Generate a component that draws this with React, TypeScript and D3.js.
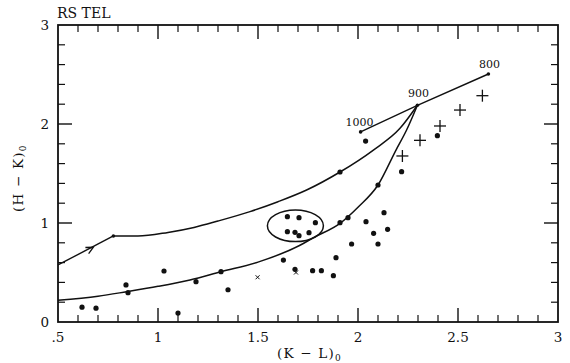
import React from "react";
import * as d3 from "d3";

// values
const dotsX = [0.62, 0.69, 0.84, 0.85, 1.03, 1.1, 1.19, 1.315, 1.35, 1.627, 1.685, 1.773, 1.817, 1.877, 1.89,
  1.968, 2.1, 2.078, 2.148, 2.13, 2.04, 1.95, 1.91, 1.647, 1.705, 1.787, 1.647, 1.685, 1.705, 1.755,
  1.91, 2.038, 2.1, 2.218, 2.397];
const dotsY = [0.15, 0.14, 0.374, 0.296, 0.515, 0.09, 0.407, 0.508, 0.326, 0.626, 0.532, 0.518, 0.518, 0.468, 0.65,
  0.788, 0.788, 0.896, 0.936, 1.104, 1.013, 1.054, 1.003, 1.064, 1.054, 1.003, 0.912, 0.906, 0.872, 0.902,
  1.515, 1.828, 1.384, 1.518, 1.882];

const plusX = [2.222, 2.31, 2.41, 2.51, 2.622];
const plusY = [1.677, 1.835, 1.98, 2.141, 2.286];

const crossX = [1.498, 1.69];
const crossY = [0.452, 0.5];

const trackX = [0.5, 0.777];
const trackY = [0.576, 0.869];

const upperX = [0.777, 0.9, 1.05, 1.18, 1.3, 1.46, 1.6, 1.743, 1.91, 2.077, 2.21, 2.297];
const upperY = [0.869, 0.868, 0.905, 0.955, 1.02, 1.115, 1.215, 1.333, 1.515, 1.737, 1.956, 2.189];

const lowerX = [0.5, 0.7, 0.843, 1.0, 1.16, 1.315, 1.5, 1.71, 1.78, 1.91, 2.0, 2.1, 2.19, 2.243, 2.297];
const lowerY = [0.22, 0.26, 0.306, 0.36, 0.425, 0.508, 0.605, 0.775, 0.855, 0.997, 1.16, 1.384, 1.737, 1.939, 2.189];

const tempLabels = ["1000", "900", "800"];
const tempX = [2.013, 2.297, 2.652];
const tempY = [1.92, 2.189, 2.505];

const ellipseCenter = [1.687, 0.972];
const ellipseRadii = [0.14, 0.16];

const xTickLabels = [".5", "1", "1.5", "2", "2.5", "3"];
const xTickValues = [0.5, 1, 1.5, 2, 2.5, 3];
const yTickLabels = ["0", "1", "2", "3"];
const yTickValues = [0, 1, 2, 3];

const W = 570;
const H = 363;
const L = 58, R = 558, T = 25, B = 322;
const FONT = "'DejaVu Serif', 'Liberation Serif', serif";

export default function App() {
  const x = d3.scaleLinear().domain([0.5, 3]).range([L, R]);
  const y = d3.scaleLinear().domain([0, 3]).range([B, T]);

  const pts = (xs: number[], ys: number[]) => xs.map((v, i) => [v, ys[i]] as [number, number]);
  const smooth = d3.line<[number, number]>().x((d) => x(d[0])).y((d) => y(d[1])).curve(d3.curveMonotoneX);
  const straight = d3.line<[number, number]>().x((d) => x(d[0])).y((d) => y(d[1]));

  const xMinor = d3.range(0.6, 2.95, 0.1).filter((v) => Math.abs(v * 2 - Math.round(v * 2)) > 0.01);
  const xMajor = [1, 1.5, 2, 2.5];
  const yMinor = d3.range(0.2, 2.95, 0.2).filter((v) => Math.abs(v - Math.round(v)) > 0.01);
  const yMajor = [1, 2];

  // arrow head on the straight track
  const ax = x(0.677), ay = y(0.755);
  const ang = Math.atan2(y(trackY[1]) - y(trackY[0]), x(trackX[1]) - x(trackX[0]));
  const arm = 8;
  const a1 = [ax - arm * Math.cos(ang - 0.45), ay - arm * Math.sin(ang - 0.45)];
  const a2 = [ax - arm * Math.cos(ang + 0.45), ay - arm * Math.sin(ang + 0.45)];

  const ink = "#111";

  return (
    <svg width={W} height={H} style={{ position: "absolute", left: 0, top: 0, background: "#fff", fontFamily: FONT }}>
      <rect x={0} y={0} width={W} height={H} fill="#fff" />
      <text x={57} y={18} fontSize={14} fill={ink}>RS TEL</text>

      {/* frame */}
      <rect x={L} y={T} width={R - L} height={B - T} fill="none" stroke={ink} strokeWidth={1.8} />
      {xMinor.map((v) => (
        <g key={"xm" + v}>
          <line x1={x(v)} x2={x(v)} y1={B} y2={B - 7} stroke={ink} strokeWidth={1.2} />
          <line x1={x(v)} x2={x(v)} y1={T} y2={T + 7} stroke={ink} strokeWidth={1.2} />
        </g>
      ))}
      {xMajor.map((v) => (
        <g key={"xM" + v}>
          <line x1={x(v)} x2={x(v)} y1={B} y2={B - 14} stroke={ink} strokeWidth={1.4} />
          <line x1={x(v)} x2={x(v)} y1={T} y2={T + 14} stroke={ink} strokeWidth={1.4} />
        </g>
      ))}
      {yMinor.map((v) => (
        <g key={"ym" + v}>
          <line x1={L} x2={L + 7} y1={y(v)} y2={y(v)} stroke={ink} strokeWidth={1.2} />
          <line x1={R} x2={R - 7} y1={y(v)} y2={y(v)} stroke={ink} strokeWidth={1.2} />
        </g>
      ))}
      {yMajor.map((v) => (
        <g key={"yM" + v}>
          <line x1={L} x2={L + 14} y1={y(v)} y2={y(v)} stroke={ink} strokeWidth={1.4} />
          <line x1={R} x2={R - 14} y1={y(v)} y2={y(v)} stroke={ink} strokeWidth={1.4} />
        </g>
      ))}

      {xTickValues.map((v, i) => (
        <text key={"xl" + i} x={x(v)} y={342} fontSize={13.5} textAnchor="middle" fill={ink}>{xTickLabels[i]}</text>
      ))}
      {yTickValues.map((v, i) => (
        <text key={"yl" + i} x={49} y={y(v) + 5} fontSize={13.5} textAnchor="end" fill={ink}>{yTickLabels[i]}</text>
      ))}

      <text x={277} y={358} fontSize={13.5} letterSpacing={1.2} fill={ink}>
        (K − L)<tspan fontSize={9} dy={3}>0</tspan>
      </text>
      <text transform="translate(23,212) rotate(-90)" fontSize={13.5} letterSpacing={1.2} fill={ink}>
        (H − K)<tspan fontSize={9} dy={3}>0</tspan>
      </text>

      {/* curves */}
      <path d={straight(pts(trackX, trackY)) || ""} fill="none" stroke={ink} strokeWidth={1.4} />
      <polyline points={`${a1[0]},${a1[1]} ${ax},${ay} ${a2[0]},${a2[1]}`} fill="none" stroke={ink} strokeWidth={1.3} />
      <path d={smooth(pts(upperX, upperY)) || ""} fill="none" stroke={ink} strokeWidth={1.5} />
      <path d={smooth(pts(lowerX, lowerY)) || ""} fill="none" stroke={ink} strokeWidth={1.5} />
      <path d={straight(pts(tempX, tempY)) || ""} fill="none" stroke={ink} strokeWidth={1.4} />
      <circle cx={x(trackX[1])} cy={y(trackY[1])} r={1.8} fill={ink} />
      {tempX.map((v, i) => (
        <circle key={"tp" + i} cx={x(v)} cy={y(tempY[i])} r={1.8} fill={ink} />
      ))}
      {tempLabels.map((s, i) => (
        <text key={"tl" + i} x={x(tempX[i]) + (i === 0 ? -1 : 1)} y={y(tempY[i]) - 6 - (i === 1 ? 2 : 0)} fontSize={11}
          textAnchor="middle" fill={ink}>{s}</text>
      ))}

      <ellipse cx={x(ellipseCenter[0])} cy={y(ellipseCenter[1])}
        rx={x(ellipseCenter[0] + ellipseRadii[0]) - x(ellipseCenter[0])}
        ry={y(ellipseCenter[1]) - y(ellipseCenter[1] + ellipseRadii[1])}
        fill="none" stroke={ink} strokeWidth={1.5} />

      {/* markers */}
      {dotsX.map((v, i) => (
        <circle key={"d" + i} cx={x(v)} cy={y(dotsY[i])} r={2.6} fill={ink} />
      ))}
      {plusX.map((v, i) => (
        <g key={"p" + i} stroke={ink} strokeWidth={1.3}>
          <line x1={x(v) - 6} x2={x(v) + 6} y1={y(plusY[i])} y2={y(plusY[i])} />
          <line x1={x(v)} x2={x(v)} y1={y(plusY[i]) - 6} y2={y(plusY[i]) + 6} />
        </g>
      ))}
      {crossX.map((v, i) => (
        <g key={"c" + i} stroke={ink} strokeWidth={1}>
          <line x1={x(v) - 2} x2={x(v) + 2} y1={y(crossY[i]) - 2} y2={y(crossY[i]) + 2} />
          <line x1={x(v) - 2} x2={x(v) + 2} y1={y(crossY[i]) + 2} y2={y(crossY[i]) - 2} />
        </g>
      ))}
    </svg>
  );
}
